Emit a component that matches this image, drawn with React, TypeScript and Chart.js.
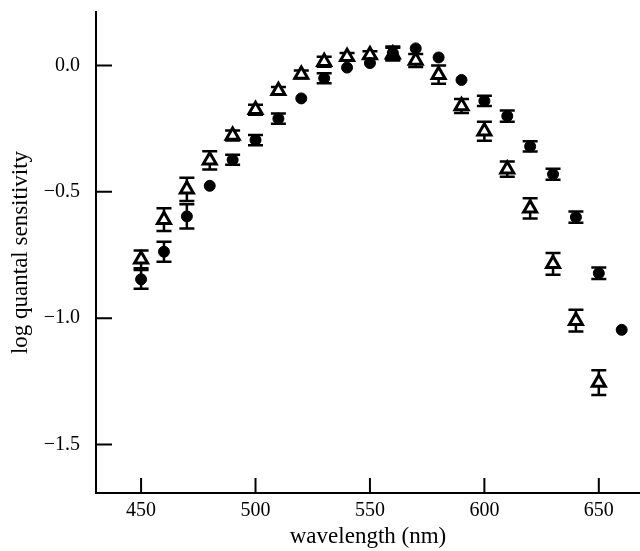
import React, { useEffect, useRef } from "react";
import { Chart, registerables } from "chart.js";

Chart.register(...registerables);

// wavelengths (nm)
const circleWavelengths = [450, 460, 470, 480, 490, 500, 510, 520, 530, 540, 550, 560, 570, 580, 590, 600, 610, 620, 630, 640, 650, 660];
const circleValues = [-0.846, -0.737, -0.597, -0.476, -0.373, -0.295, -0.21, -0.13, -0.05, -0.008, 0.01, 0.05, 0.068, 0.032, -0.057, -0.14, -0.2, -0.32, -0.43, -0.6, -0.822, -1.046];
const circleErrors = [0.037, 0.04, 0.048, 0, 0.02, 0.02, 0.02, 0, 0.02, 0, 0, 0.025, 0, 0, 0, 0.02, 0.022, 0.02, 0.022, 0.022, 0.023, 0];

const triangleWavelengths = [450, 460, 470, 480, 490, 500, 510, 520, 530, 540, 550, 560, 570, 580, 590, 600, 610, 620, 630, 640, 650];
const triangleValues = [-0.767, -0.61, -0.49, -0.375, -0.277, -0.175, -0.1, -0.035, 0.015, 0.035, 0.042, 0.045, 0.02, -0.036, -0.16, -0.26, -0.41, -0.565, -0.785, -1.01, -1.255];
const triangleErrors = [0.035, 0.045, 0.046, 0.036, 0.02, 0.02, 0.015, 0.015, 0.02, 0.015, 0.015, 0.025, 0.026, 0.036, 0.028, 0.038, 0.03, 0.04, 0.043, 0.043, 0.049];

const xTicks = [450, 500, 550, 600, 650];
const yTicks = [-1.5, -1.0, -0.5, 0.0];

const FONT = "'Liberation Serif', 'Times New Roman', serif";

const errorBarPlugin = {
  id: "errorBars",
  beforeDatasetsDraw(chart: any) {
    const ctx = chart.ctx;
    const xs = chart.scales.x;
    const ys = chart.scales.y;
    const sets = [
      { w: circleWavelengths, v: circleValues, e: circleErrors },
      { w: triangleWavelengths, v: triangleValues, e: triangleErrors },
    ];
    ctx.save();
    ctx.strokeStyle = "#000";
    ctx.lineWidth = 2.5;
    ctx.lineCap = "butt";
    for (const s of sets) {
      s.w.forEach((w: number, i: number) => {
        const err = s.e[i];
        if (!err) return;
        const px = xs.getPixelForValue(w);
        const top = ys.getPixelForValue(s.v[i] + err);
        const bot = ys.getPixelForValue(s.v[i] - err);
        ctx.beginPath();
        ctx.moveTo(px, top);
        ctx.lineTo(px, bot);
        ctx.moveTo(px - 7.5, top);
        ctx.lineTo(px + 7.5, top);
        ctx.moveTo(px - 7.5, bot);
        ctx.lineTo(px + 7.5, bot);
        ctx.stroke();
      });
    }
    ctx.restore();
  },
  afterDraw(chart: any) {
    const ctx = chart.ctx;
    const xs = chart.scales.x;
    const ys = chart.scales.y;
    const area = chart.chartArea;
    ctx.save();
    ctx.strokeStyle = "#000";
    ctx.lineWidth = 2;
    ctx.beginPath();
    for (const t of yTicks) {
      const py = ys.getPixelForValue(t);
      ctx.moveTo(area.left, py);
      ctx.lineTo(area.left + 16, py);
    }
    for (const t of xTicks) {
      const px = xs.getPixelForValue(t);
      ctx.moveTo(px, area.bottom);
      ctx.lineTo(px, area.bottom - 15);
    }
    ctx.stroke();
    ctx.restore();
  },
};

export default function App() {
  const ref = useRef<HTMLCanvasElement | null>(null);

  useEffect(() => {
    if (!ref.current) return;
    const chart = new Chart(ref.current, {
      type: "scatter",
      data: {
        datasets: [
          {
            label: "circles",
            data: circleWavelengths.map((w, i) => ({ x: w, y: circleValues[i] })),
            pointStyle: "circle",
            pointRadius: 5.5,
            pointBackgroundColor: "#000",
            pointBorderColor: "#000",
            pointBorderWidth: 1,
          },
          {
            label: "triangles",
            data: triangleWavelengths.map((w, i) => ({ x: w, y: triangleValues[i] })),
            pointStyle: "triangle",
            pointRadius: 7.5,
            pointBackgroundColor: "#fff",
            pointBorderColor: "#000",
            pointBorderWidth: 3,
          },
        ],
      },
      plugins: [errorBarPlugin],
      options: {
        animation: false,
        responsive: false,
        maintainAspectRatio: false,
        layout: { autoPadding: false, padding: { top: 12, right: 0, left: 0, bottom: 0 } },
        plugins: {
          legend: { display: false },
          tooltip: { enabled: false },
        },
        scales: {
          x: {
            type: "linear",
            min: 430.3,
            max: 668,
            afterBuildTicks: (scale: any) => {
              scale.ticks = xTicks.map((v) => ({ value: v }));
            },
            afterFit: (scale: any) => {
              scale.height = 58;
              scale.paddingLeft = 0;
              scale.paddingRight = 0;
            },
            grid: { display: false, drawTicks: false },
            border: { display: true, color: "#000", width: 2 },
            ticks: {
              color: "#000",
              font: { family: FONT, size: 20 },
              padding: 6,
              maxRotation: 0,
              callback: (v: any) => String(v),
            },
            title: {
              display: true,
              text: "wavelength (nm)",
              color: "#000",
              font: { family: FONT, size: 23 },
              padding: { top: 0, bottom: 0 },
            },
          },
          y: {
            type: "linear",
            min: -1.692,
            max: 0.212,
            afterBuildTicks: (scale: any) => {
              scale.ticks = yTicks.map((v) => ({ value: v }));
            },
            afterFit: (scale: any) => {
              scale.width = 96;
              scale.paddingTop = 0;
              scale.paddingBottom = 0;
            },
            grid: { display: false, drawTicks: false },
            border: { display: true, color: "#000", width: 2 },
            ticks: {
              color: "#000",
              font: { family: FONT, size: 20 },
              padding: 16,
              callback: (v: any) => Number(v).toFixed(1).replace("-", "\u2212"),
            },
            title: {
              display: true,
              text: "log quantal sensitivity",
              color: "#000",
              font: { family: FONT, size: 23 },
              padding: { top: 7, bottom: 0 },
            },
          },
        },
      },
    });
    return () => chart.destroy();
  }, []);

  return (
    <div style={{ position: "absolute", left: 0, top: 0, width: 640, height: 551, background: "#fff" }}>
      <canvas ref={ref} width={640} height={551} style={{ width: 640, height: 551, display: "block" }} />
    </div>
  );
}
